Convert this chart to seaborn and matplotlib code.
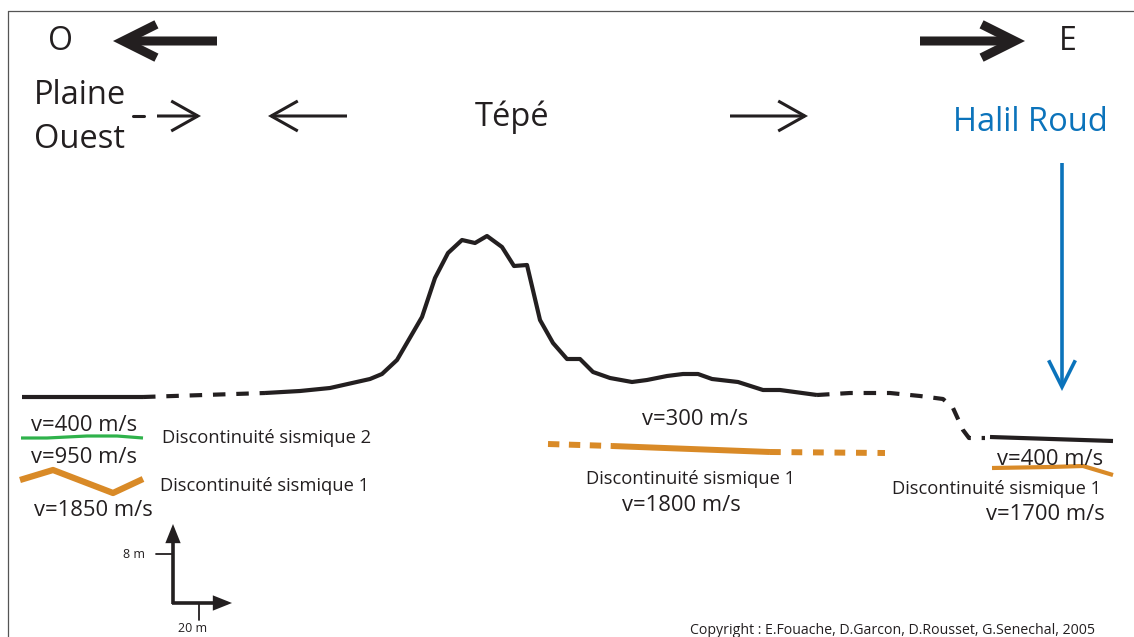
import matplotlib
matplotlib.use('Agg')
import matplotlib.pyplot as plt
import seaborn as sns

sns.set_theme(style="white")
plt.rcParams['font.family'] = ['Open Sans', 'DejaVu Sans']

BLACK = "#231f20"
ORANGE = "#d98a27"
GREEN = "#2fb24b"
BLUE = "#0b73bb"

# --- topographic profile (diagram units, y grows downward) ---
left_plain_x = [22, 143]
left_plain_y = [397, 397]
left_dash_x = [143, 265]
left_dash_y = [397, 393]
tepe_x = [265, 300, 330, 370, 382, 397, 422, 435, 448, 462, 475, 487, 502, 514, 527,
          540, 553, 567, 580, 593, 610, 632, 647, 667, 683, 698, 712, 738, 763, 780, 817]
tepe_y = [393, 391, 388, 379, 374, 360, 317, 278, 253, 240, 243, 236, 247, 266, 265,
          320, 343, 359, 359, 372, 378, 382, 380, 376, 374, 374, 379, 382, 390, 390, 395]
right_dash_x = [817, 850, 890, 920, 943, 953, 963, 969, 985]
right_dash_y = [395, 393, 393, 396, 399, 408, 430, 438, 438]
river_x = [990, 1113]
river_y = [437, 441]

# --- seismic discontinuities ---
disc2_left_x = [21, 47, 87, 117, 143]
disc2_left_y = [438, 438, 436, 436, 438]
disc1_left_x = [20, 53, 113, 143]
disc1_left_y = [480, 470, 493, 479]
disc1_mid_dot1_x = [548, 612]
disc1_mid_dot1_y = [444, 446]
disc1_mid_x = [612, 770]
disc1_mid_y = [446, 452]
disc1_mid_dot2_x = [770, 885]
disc1_mid_dot2_y = [452, 453]
disc1_right_x = [992, 1050, 1083, 1113]
disc1_right_y = [468, 467, 466, 475]

fig = plt.figure(figsize=(11.34, 6.37), dpi=100)
ax = fig.add_axes([0, 0, 1, 1])
ax.set_xlim(0, 1134)
ax.set_ylim(637, 0)
ax.axis('off')

def line(x, y, color, lw, ls='-'):
    sns.lineplot(x=x, y=y, ax=ax, color=color, lw=lw, linestyle=ls,
                 sort=False, estimator=None, solid_capstyle='butt',
                 dash_capstyle='butt')

line(left_plain_x, left_plain_y, BLACK, 3)
line(left_dash_x, left_dash_y, BLACK, 3, (0, (3, 2.6)))
line(tepe_x, tepe_y, BLACK, 3)
line(right_dash_x, right_dash_y, BLACK, 3, (0, (3, 2.6)))
line(river_x, river_y, BLACK, 3)

line(disc2_left_x, disc2_left_y, GREEN, 2.3)
line(disc1_left_x, disc1_left_y, ORANGE, 4.5)
line(disc1_mid_dot1_x, disc1_mid_dot1_y, ORANGE, 4.3, (0, (1.9, 1.6)))
line(disc1_mid_x, disc1_mid_y, ORANGE, 4.3)
line(disc1_mid_dot2_x, disc1_mid_dot2_y, ORANGE, 4.3, (0, (1.8, 1.8)))
line(disc1_right_x, disc1_right_y, ORANGE, 3)

# frame
ax.plot([8, 1134], [11, 11], color="#555555", lw=0.9)
ax.plot([8, 8], [11, 637], color="#555555", lw=0.9)

def arrow(x0, y0, x1, y1, lw, hl, hw, color=BLACK, style='->'):
    ax.annotate('', xy=(x1, y1), xytext=(x0, y0),
                arrowprops=dict(arrowstyle=f"{style},head_length={hl},head_width={hw}",
                                lw=lw, color=color, shrinkA=0, shrinkB=0,
                                capstyle='butt', joinstyle='miter'))

# orientation arrows
arrow(217, 41, 113, 41, 6.5, 2.0, 1.0)
arrow(920, 41, 1025, 41, 6.5, 2.0, 1.0)
ax.plot([133, 144], [116, 116], color=BLACK, lw=2.2)
arrow(157, 116, 201, 116, 2.2, 1.6, 0.9)
arrow(347, 116, 268, 116, 2.2, 1.6, 0.9)
arrow(730, 116, 808, 116, 2.2, 1.6, 0.9)
arrow(1062, 163, 1062, 391, 2.6, 1.6, 0.8, color=BLUE)

# scale bar
arrow(173, 604, 173, 524, 2.6, 0.75, 0.3, style='-|>')
arrow(172, 603, 232, 603, 2.6, 0.75, 0.3, style='-|>')
ax.plot([156, 173], [554, 554], color=BLACK, lw=1.3)
ax.plot([199, 199], [603, 620], color=BLACK, lw=1.3)

def txt(x, y, s, size, ha='center', color=BLACK):
    ax.text(x, y, s, fontsize=size, ha=ha, va='baseline', color=color)

txt(60, 50, "O", 23)
txt(1068, 50, "E", 23)
txt(34, 104, "Plaine", 23.5, ha='left')
txt(34, 148, "Ouest", 23.5, ha='left')
txt(512, 126, "Tépé", 23.5)
txt(1030, 131, "Halil Roud", 23.5, color=BLUE)

txt(84, 431, "v=400 m/s", 15.8)
txt(162, 443, "Discontinuité sismique 2", 13.2, ha='left')
txt(84, 463, "v=950 m/s", 15.8)
txt(160, 491, "Discontinuité sismique 1", 13.2, ha='left')
txt(93, 516, "v=1850 m/s", 15.8)

txt(695, 425, "v=300 m/s", 15.8)
txt(690, 484, "Discontinuité sismique 1", 13.2)
txt(681, 511, "v=1800 m/s", 15.8)

txt(1050, 465, "v=400 m/s", 15.8)
txt(997, 494, "Discontinuité sismique 1", 13.2)
txt(1045, 520, "v=1700 m/s", 15.8)

txt(134, 558, "8 m", 9)
txt(193, 632, "20 m", 9)
txt(892, 634, "Copyright : E.Fouache, D.Garcon, D.Rousset, G.Senechal, 2005", 10.2)

fig.savefig("out.png", dpi=100)
